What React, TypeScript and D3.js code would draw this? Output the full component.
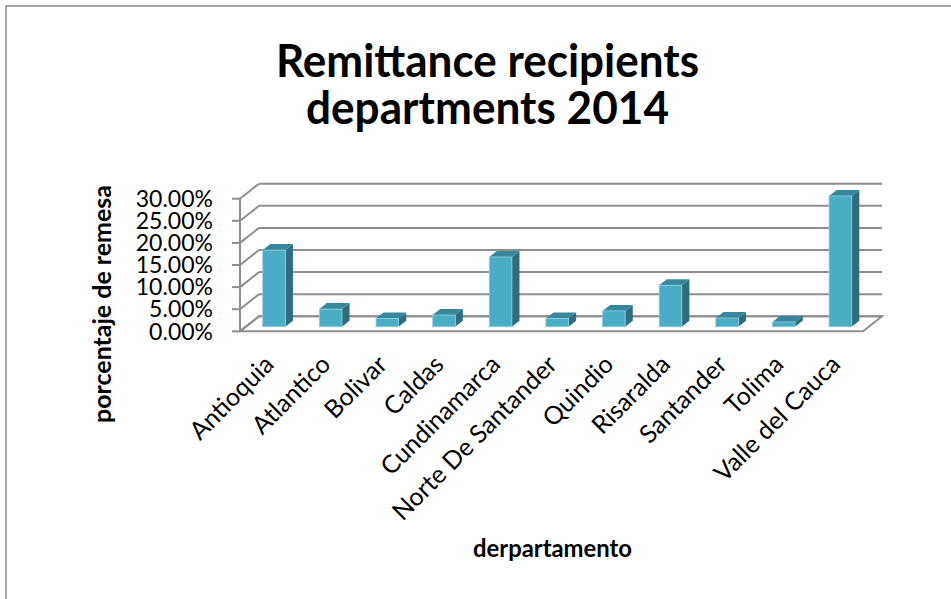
import React from 'react';
import * as d3 from 'd3';

// departments and share of remittances received (2014)
const categories = [
  'Antioquia',
  'Atlantico',
  'Bolivar',
  'Caldas',
  'Cundinamarca',
  'Norte De Santander',
  'Quindio',
  'Risaralda',
  'Santander',
  'Tolima',
  'Valle del Cauca',
];
const values = [0.1735, 0.04, 0.019, 0.0265, 0.158, 0.019, 0.036, 0.094, 0.02, 0.011, 0.296];
const yTicks = [0, 0.05, 0.1, 0.15, 0.2, 0.25, 0.3];
const titleLines = ['Remittance recipients', 'departments 2014'];
const yTitle = 'porcentaje de remesa';
const xTitle = 'derpartamento';

const W = 951;
const H = 599;

// 3D projection of the plot box
const depthX = 19;
const depthY = -15;
const barFront = 0.3;
const barBack = 0.7;
const barInset = 17;

const font = 'Lato, "Open Sans", sans-serif';
const gridColor = '#8e8e8e';

export default function App() {
  const x = d3.scaleBand<string>().domain(categories).range([240, 863]).padding(0);
  const y = d3.scaleLinear().domain([0, 0.3]).range([331.3, 198.7]);
  const fmt = d3.format('.2%');

  const x0 = x.range()[0];
  const x1 = x.range()[1];
  const yBase = y(0);

  const floor = [
    [x0, yBase],
    [x1, yBase],
    [x1 + depthX, yBase + depthY],
    [x0 + depthX, yBase + depthY],
  ];

  const bw = x.bandwidth() - 2 * barInset;
  const fdx = barFront * depthX;
  const fdy = barFront * depthY;
  const ddx = (barBack - barFront) * depthX;
  const ddy = (barBack - barFront) * depthY;

  return (
    <svg width={W} height={H} style={{ position: 'absolute', left: 0, top: 0, background: '#fff' }}>
      <rect x={6} y={6} width={1200} height={800} fill="#fff" stroke="#878787" strokeWidth={1.5} />

      {/* title */}
      {titleLines.map((t, i) => (
        <text
          key={t}
          x={487.5}
          y={i === 0 ? 76.7 : 123.5}
          textAnchor="middle"
          fontFamily={font}
          fontWeight="bold"
          fontSize={46}
          textLength={i === 0 ? 423 : 363}
          lengthAdjust="spacingAndGlyphs"
          fill="#000"
        >
          {t}
        </text>
      ))}

      {/* floor */}
      <polygon points={floor.map(p => p.join(',')).join(' ')} fill="#fff" stroke={gridColor} strokeWidth={2} />

      {/* back wall gridlines + side wall diagonals */}
      {yTicks.map(t => (
        <g key={t}>
          <line x1={x0 + depthX} x2={x1 + depthX} y1={y(t) + depthY} y2={y(t) + depthY} stroke={gridColor} strokeWidth={2} />
          <line x1={x0} x2={x0 + depthX} y1={y(t)} y2={y(t) + depthY} stroke={gridColor} strokeWidth={2} />
          <line x1={x0 - 8} x2={x0} y1={y(t)} y2={y(t)} stroke={gridColor} strokeWidth={2} />
          <text
            x={213}
            y={y(t)}
            dy="0.36em"
            textAnchor="end"
            fontFamily={font}
            fontSize={23}
            fill="#000"
          >
            {fmt(t)}
          </text>
        </g>
      ))}
      <line x1={x0} x2={x0} y1={y(0.3)} y2={yBase} stroke={gridColor} strokeWidth={2} />

      {/* bars */}
      {categories.map((c, i) => {
        const bx = (x(c) || 0) + barInset + fdx;
        const top = y(values[i]) + fdy;
        const bot = yBase + fdy;
        const side = [
          [bx + bw, top],
          [bx + bw + ddx, top + ddy],
          [bx + bw + ddx, bot + ddy],
          [bx + bw, bot],
        ];
        const lid = [
          [bx, top],
          [bx + ddx, top + ddy],
          [bx + bw + ddx, top + ddy],
          [bx + bw, top],
        ];
        return (
          <g key={c}>
            <polygon points={side.map(p => p.join(',')).join(' ')} fill="#2f6d7e" />
            <polygon points={lid.map(p => p.join(',')).join(' ')} fill="#38879c" />
            <rect x={bx} y={top} width={bw} height={bot - top} fill="#4bacc6" stroke="#8fd2e3" strokeWidth={0.8} />
          </g>
        );
      })}

      {/* category labels */}
      {categories.map(c => {
        const px = (x(c) || 0) + x.bandwidth() / 2 + 7;
        const py = 366;
        return (
          <text
            key={c}
            transform={`translate(${px},${py}) rotate(-45)`}
            textAnchor="end"
            fontFamily={font}
            fontSize={25}
            fill="#000"
          >
            {c}
          </text>
        );
      })}

      {/* axis titles */}
      <text
        transform="translate(111,304) rotate(-90)"
        textAnchor="middle"
        fontFamily={font}
        fontWeight="bold"
        fontSize={24}
        textLength={238}
        lengthAdjust="spacingAndGlyphs"
        fill="#000"
      >
        {yTitle}
      </text>
      <text
        x={552.5}
        y={557}
        textAnchor="middle"
        fontFamily={font}
        fontWeight="bold"
        fontSize={24}
        textLength={159}
        lengthAdjust="spacingAndGlyphs"
        fill="#000"
      >
        {xTitle}
      </text>
    </svg>
  );
}
